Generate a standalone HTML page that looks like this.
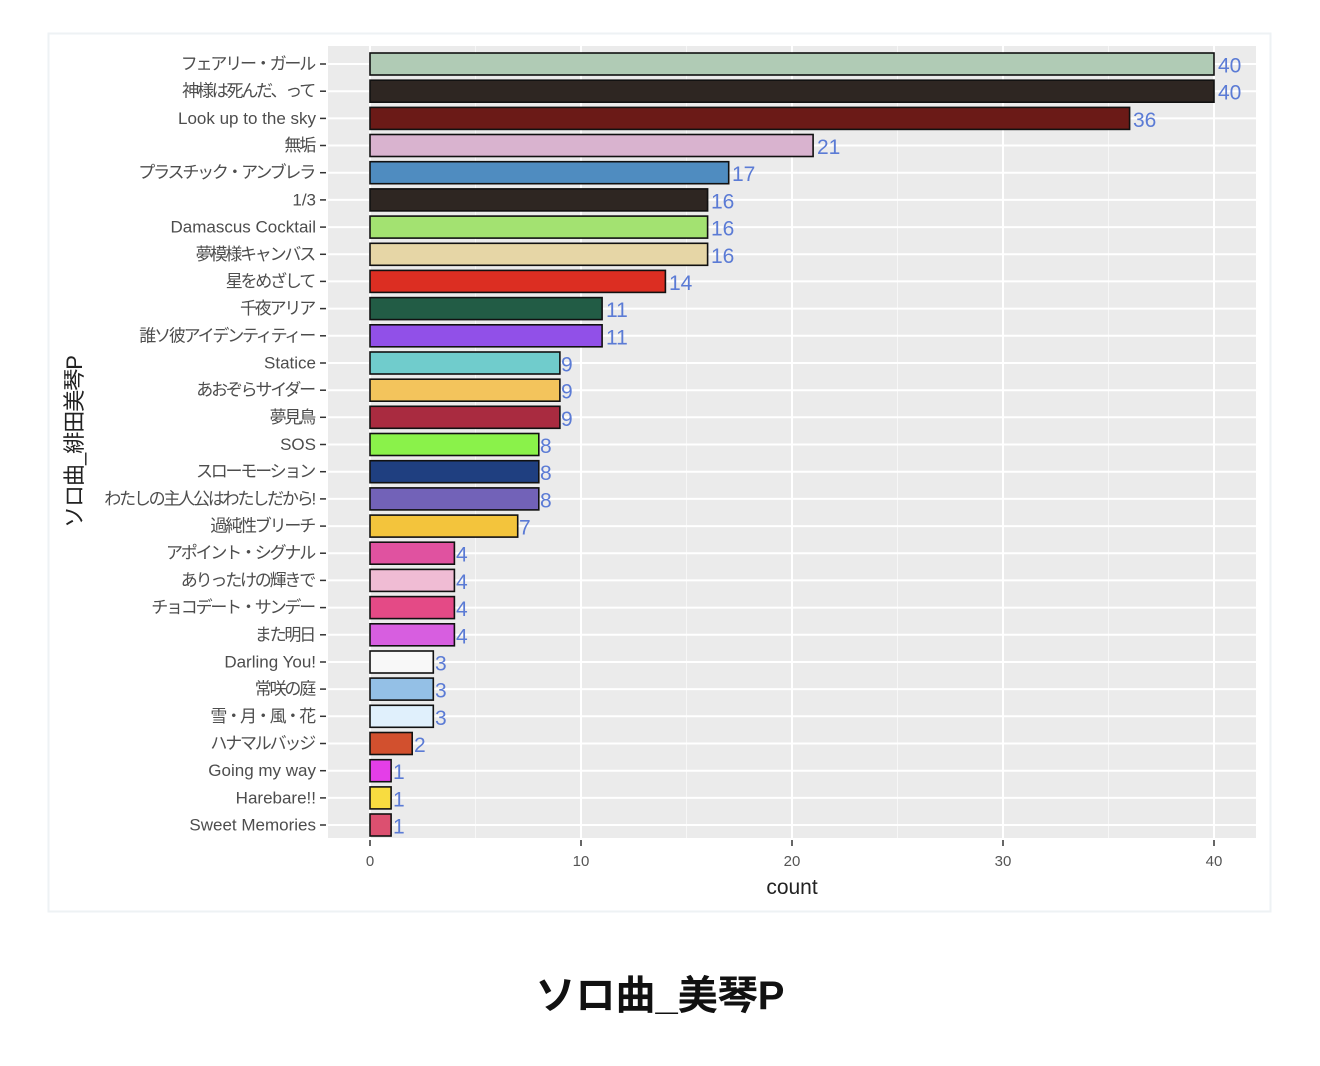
<!DOCTYPE html>
<html><head><meta charset="utf-8"><style>
body{margin:0;background:#fff;}
svg{display:block;font-family:"Liberation Sans","Noto Sans CJK JP",sans-serif;}
.yl{font-size:17px;fill:#4d4d4d;text-anchor:end;dominant-baseline:central;}
.j{letter-spacing:-2.2px;}
.c{font-size:21px;fill:#5b7bd5;dominant-baseline:central;}
.b{stroke:#111;stroke-width:1.6;}
</style></head><body>
<svg width="1320" height="1066" viewBox="0 0 1320 1066">
<rect x="48.5" y="33.5" width="1222" height="878" fill="#fff" stroke="#eef2f4" stroke-width="2"/>
<rect x="328" y="46" width="928" height="792" fill="#ebebeb"/>
<g stroke="#f7f7f7" stroke-width="1">
<line x1="475.5" y1="46" x2="475.5" y2="838"/><line x1="686.5" y1="46" x2="686.5" y2="838"/><line x1="897.5" y1="46" x2="897.5" y2="838"/><line x1="1108.5" y1="46" x2="1108.5" y2="838"/>
</g>
<g stroke="#fff" stroke-width="2">
<line x1="370" y1="46" x2="370" y2="838"/><line x1="581" y1="46" x2="581" y2="838"/><line x1="792" y1="46" x2="792" y2="838"/><line x1="1003" y1="46" x2="1003" y2="838"/><line x1="1214" y1="46" x2="1214" y2="838"/>
<line x1="328" y1="64" x2="1256" y2="64"/><line x1="328" y1="91.2" x2="1256" y2="91.2"/><line x1="328" y1="118.4" x2="1256" y2="118.4"/><line x1="328" y1="145.5" x2="1256" y2="145.5"/><line x1="328" y1="172.7" x2="1256" y2="172.7"/><line x1="328" y1="199.9" x2="1256" y2="199.9"/><line x1="328" y1="227.1" x2="1256" y2="227.1"/><line x1="328" y1="254.3" x2="1256" y2="254.3"/><line x1="328" y1="281.4" x2="1256" y2="281.4"/><line x1="328" y1="308.6" x2="1256" y2="308.6"/><line x1="328" y1="335.8" x2="1256" y2="335.8"/><line x1="328" y1="363" x2="1256" y2="363"/><line x1="328" y1="390.2" x2="1256" y2="390.2"/><line x1="328" y1="417.3" x2="1256" y2="417.3"/><line x1="328" y1="444.5" x2="1256" y2="444.5"/><line x1="328" y1="471.7" x2="1256" y2="471.7"/><line x1="328" y1="498.9" x2="1256" y2="498.9"/><line x1="328" y1="526.1" x2="1256" y2="526.1"/><line x1="328" y1="553.2" x2="1256" y2="553.2"/><line x1="328" y1="580.4" x2="1256" y2="580.4"/><line x1="328" y1="607.6" x2="1256" y2="607.6"/><line x1="328" y1="634.8" x2="1256" y2="634.8"/><line x1="328" y1="662" x2="1256" y2="662"/><line x1="328" y1="689.1" x2="1256" y2="689.1"/><line x1="328" y1="716.3" x2="1256" y2="716.3"/><line x1="328" y1="743.5" x2="1256" y2="743.5"/><line x1="328" y1="770.7" x2="1256" y2="770.7"/><line x1="328" y1="797.9" x2="1256" y2="797.9"/><line x1="328" y1="825" x2="1256" y2="825"/>
</g>
<g class="b">
<rect x="370" y="53" width="844" height="22" fill="#b0cbb5"/>
<rect x="370" y="80.2" width="844" height="22" fill="#2e2622"/>
<rect x="370" y="107.4" width="759.6" height="22" fill="#6b1a17"/>
<rect x="370" y="134.5" width="443.1" height="22" fill="#d9b3cf"/>
<rect x="370" y="161.7" width="358.7" height="22" fill="#4f8cc0"/>
<rect x="370" y="188.9" width="337.6" height="22" fill="#2e2622"/>
<rect x="370" y="216.1" width="337.6" height="22" fill="#a3e271"/>
<rect x="370" y="243.3" width="337.6" height="22" fill="#e6d6a6"/>
<rect x="370" y="270.4" width="295.4" height="22" fill="#dc2e22"/>
<rect x="370" y="297.6" width="232.1" height="22" fill="#225c45"/>
<rect x="370" y="324.8" width="232.1" height="22" fill="#9150e8"/>
<rect x="370" y="352" width="189.9" height="22" fill="#70cccc"/>
<rect x="370" y="379.2" width="189.9" height="22" fill="#f3c45c"/>
<rect x="370" y="406.3" width="189.9" height="22" fill="#a92b40"/>
<rect x="370" y="433.5" width="168.8" height="22" fill="#8af24a"/>
<rect x="370" y="460.7" width="168.8" height="22" fill="#1f3f80"/>
<rect x="370" y="487.9" width="168.8" height="22" fill="#7262b8"/>
<rect x="370" y="515.1" width="147.7" height="22" fill="#f3c43c"/>
<rect x="370" y="542.2" width="84.4" height="22" fill="#e052a0"/>
<rect x="370" y="569.4" width="84.4" height="22" fill="#f0bcd4"/>
<rect x="370" y="596.6" width="84.4" height="22" fill="#e44a86"/>
<rect x="370" y="623.8" width="84.4" height="22" fill="#d75ee0"/>
<rect x="370" y="651" width="63.3" height="22" fill="#f8f8f8"/>
<rect x="370" y="678.1" width="63.3" height="22" fill="#94c0e6"/>
<rect x="370" y="705.3" width="63.3" height="22" fill="#e0f0fc"/>
<rect x="370" y="732.5" width="42.2" height="22" fill="#d2502e"/>
<rect x="370" y="759.7" width="21.1" height="22" fill="#e43ee8"/>
<rect x="370" y="786.9" width="21.1" height="22" fill="#f8dc40"/>
<rect x="370" y="814" width="21.1" height="22" fill="#dc5070"/>
</g>
<g class="c">
<text x="1218" y="66">40</text><text x="1218" y="93.2">40</text><text x="1133" y="120.4">36</text><text x="817" y="147.5">21</text><text x="732" y="174.7">17</text><text x="711" y="201.9">16</text><text x="711" y="229.1">16</text><text x="711" y="256.3">16</text><text x="669" y="283.4">14</text><text x="606" y="310.6">11</text><text x="606" y="337.8">11</text><text x="561" y="365">9</text><text x="561" y="392.2">9</text><text x="561" y="419.3">9</text><text x="540" y="446.5">8</text><text x="540" y="473.7">8</text><text x="540" y="500.9">8</text><text x="519" y="528.1">7</text><text x="456" y="555.2">4</text><text x="456" y="582.4">4</text><text x="456" y="609.6">4</text><text x="456" y="636.8">4</text><text x="435" y="664">3</text><text x="435" y="691.1">3</text><text x="435" y="718.3">3</text><text x="414" y="745.5">2</text><text x="393" y="772.7">1</text><text x="393" y="799.9">1</text><text x="393" y="827">1</text>
</g>
<g stroke="#333" stroke-width="1.5">
<line x1="320" y1="64" x2="326" y2="64"/><line x1="320" y1="91.2" x2="326" y2="91.2"/><line x1="320" y1="118.4" x2="326" y2="118.4"/><line x1="320" y1="145.5" x2="326" y2="145.5"/><line x1="320" y1="172.7" x2="326" y2="172.7"/><line x1="320" y1="199.9" x2="326" y2="199.9"/><line x1="320" y1="227.1" x2="326" y2="227.1"/><line x1="320" y1="254.3" x2="326" y2="254.3"/><line x1="320" y1="281.4" x2="326" y2="281.4"/><line x1="320" y1="308.6" x2="326" y2="308.6"/><line x1="320" y1="335.8" x2="326" y2="335.8"/><line x1="320" y1="363" x2="326" y2="363"/><line x1="320" y1="390.2" x2="326" y2="390.2"/><line x1="320" y1="417.3" x2="326" y2="417.3"/><line x1="320" y1="444.5" x2="326" y2="444.5"/><line x1="320" y1="471.7" x2="326" y2="471.7"/><line x1="320" y1="498.9" x2="326" y2="498.9"/><line x1="320" y1="526.1" x2="326" y2="526.1"/><line x1="320" y1="553.2" x2="326" y2="553.2"/><line x1="320" y1="580.4" x2="326" y2="580.4"/><line x1="320" y1="607.6" x2="326" y2="607.6"/><line x1="320" y1="634.8" x2="326" y2="634.8"/><line x1="320" y1="662" x2="326" y2="662"/><line x1="320" y1="689.1" x2="326" y2="689.1"/><line x1="320" y1="716.3" x2="326" y2="716.3"/><line x1="320" y1="743.5" x2="326" y2="743.5"/><line x1="320" y1="770.7" x2="326" y2="770.7"/><line x1="320" y1="797.9" x2="326" y2="797.9"/><line x1="320" y1="825" x2="326" y2="825"/>
<line x1="370" y1="840" x2="370" y2="846"/><line x1="581" y1="840" x2="581" y2="846"/><line x1="792" y1="840" x2="792" y2="846"/><line x1="1003" y1="840" x2="1003" y2="846"/><line x1="1214" y1="840" x2="1214" y2="846"/>
</g>
<g class="yl">
<text class="j" x="314" y="64">フェアリー・ガール</text><text class="j" x="314" y="91.2">神様は死んだ、って</text><text x="316" y="118.4">Look up to the sky</text><text class="j" x="314" y="145.5">無垢</text><text class="j" x="314" y="172.7">プラスチック・アンブレラ</text><text x="316" y="199.9">1/3</text><text x="316" y="227.1">Damascus Cocktail</text><text class="j" x="314" y="254.3">夢模様キャンバス</text><text class="j" x="314" y="281.4">星をめざして</text><text class="j" x="314" y="308.6">千夜アリア</text><text class="j" x="314" y="335.8">誰ソ彼アイデンティティー</text><text x="316" y="363">Statice</text><text class="j" x="314" y="390.2">あおぞらサイダー</text><text class="j" x="314" y="417.3">夢見鳥</text><text x="316" y="444.5">SOS</text><text class="j" x="314" y="471.7">スローモーション</text><text class="j" x="314" y="498.9">わたしの主人公はわたしだから!</text><text class="j" x="314" y="526.1">過純性ブリーチ</text><text class="j" x="314" y="553.2">アポイント・シグナル</text><text class="j" x="314" y="580.4">ありったけの輝きで</text><text class="j" x="314" y="607.6">チョコデート・サンデー</text><text class="j" x="314" y="634.8">また明日</text><text x="316" y="662">Darling You!</text><text class="j" x="314" y="689.1">常咲の庭</text><text class="j" x="314" y="716.3">雪・月・風・花</text><text class="j" x="314" y="743.5">ハナマルバッジ</text><text x="316" y="770.7">Going my way</text><text x="316" y="797.9">Harebare!!</text><text x="316" y="825">Sweet Memories</text>
</g>
<g font-size="15" fill="#555" text-anchor="middle">
<text x="370" y="866">0</text><text x="581" y="866">10</text><text x="792" y="866">20</text><text x="1003" y="866">30</text><text x="1214" y="866">40</text>
</g>
<text x="792" y="894" font-size="21" fill="#222" text-anchor="middle">count</text>
<text transform="translate(82,442) rotate(-90)" font-size="22" fill="#222" text-anchor="middle" letter-spacing="-1">ソロ曲_緋田美琴P</text>
<text x="660" y="1009" font-size="40" font-weight="bold" fill="#111" text-anchor="middle">ソロ曲_美琴P</text>
</svg>
</body></html>
